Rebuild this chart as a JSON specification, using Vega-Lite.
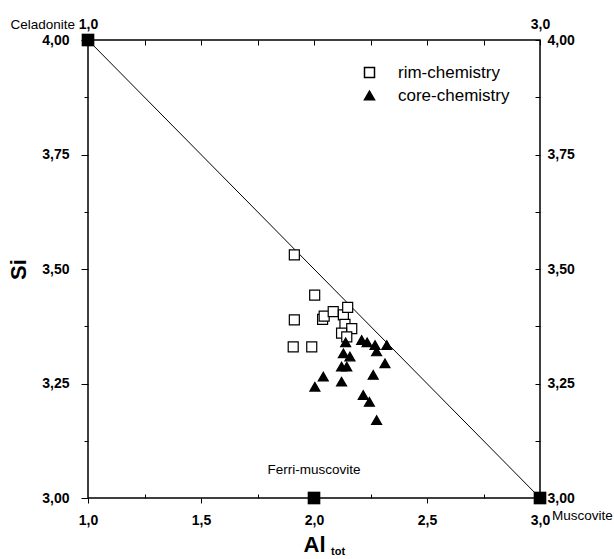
{
  "$schema": "https://vega.github.io/schema/vega-lite/v6.json",
  "width": 452,
  "height": 458,
  "autosize": "none",
  "padding": {"left": 88, "top": 40, "right": 74, "bottom": 61},
  "background": "white",
  "config": {
    "view": {"stroke": "black", "strokeWidth": 1.5},
    "font": "Liberation Sans",
    "axis": {
      "grid": false,
      "domain": false,
      "tickColor": "black",
      "tickWidth": 1,
      "labelColor": "black",
      "titleColor": "black",
      "labelFont": "Liberation Sans",
      "labelFontWeight": "bold",
      "labelFontSize": 14,
      "labelFlush": false,
      "titleFont": "Liberation Sans",
      "titleFontWeight": "bold",
      "titleFontSize": 22
    }
  },
  "datasets": {
    "line": [{"x": 1, "y": 4}, {"x": 3, "y": 3}],
    "ends": [
      {"x": 1, "y": 4, "name": "Celadonite"},
      {"x": 2, "y": 3, "name": "Ferri-muscovite"},
      {"x": 3, "y": 3, "name": "Muscovite"}
    ],
    "pts": [
      {"type": "rim-chemistry", "x": 1.913, "y": 3.531},
      {"type": "rim-chemistry", "x": 2.003, "y": 3.443},
      {"type": "rim-chemistry", "x": 1.913, "y": 3.389},
      {"type": "rim-chemistry", "x": 1.908, "y": 3.330},
      {"type": "rim-chemistry", "x": 1.990, "y": 3.330},
      {"type": "rim-chemistry", "x": 2.038, "y": 3.390},
      {"type": "rim-chemistry", "x": 2.045, "y": 3.397},
      {"type": "rim-chemistry", "x": 2.085, "y": 3.407},
      {"type": "rim-chemistry", "x": 2.130, "y": 3.400},
      {"type": "rim-chemistry", "x": 2.149, "y": 3.416},
      {"type": "rim-chemistry", "x": 2.137, "y": 3.379},
      {"type": "rim-chemistry", "x": 2.167, "y": 3.370},
      {"type": "rim-chemistry", "x": 2.122, "y": 3.360},
      {"type": "rim-chemistry", "x": 2.145, "y": 3.352},
      {"type": "core-chemistry", "x": 2.140, "y": 3.340},
      {"type": "core-chemistry", "x": 2.211, "y": 3.345},
      {"type": "core-chemistry", "x": 2.235, "y": 3.340},
      {"type": "core-chemistry", "x": 2.270, "y": 3.334},
      {"type": "core-chemistry", "x": 2.322, "y": 3.334},
      {"type": "core-chemistry", "x": 2.277, "y": 3.320},
      {"type": "core-chemistry", "x": 2.130, "y": 3.316},
      {"type": "core-chemistry", "x": 2.159, "y": 3.309},
      {"type": "core-chemistry", "x": 2.122, "y": 3.287},
      {"type": "core-chemistry", "x": 2.145, "y": 3.287},
      {"type": "core-chemistry", "x": 2.314, "y": 3.294},
      {"type": "core-chemistry", "x": 2.041, "y": 3.265},
      {"type": "core-chemistry", "x": 2.004, "y": 3.243},
      {"type": "core-chemistry", "x": 2.122, "y": 3.254},
      {"type": "core-chemistry", "x": 2.262, "y": 3.269},
      {"type": "core-chemistry", "x": 2.218, "y": 3.225},
      {"type": "core-chemistry", "x": 2.245, "y": 3.210},
      {"type": "core-chemistry", "x": 2.277, "y": 3.170}
    ]
  },
  "layer": [
    {
      "data": {"name": "line"},
      "mark": {"type": "line", "color": "black", "strokeWidth": 1},
      "encoding": {
        "x": {
          "field": "x", "type": "quantitative",
          "scale": {"domain": [1, 3], "nice": false, "zero": false},
          "axis": {
            "orient": "bottom",
            "title": "Al",
            "values": [1, 1.25, 1.5, 1.75, 2, 2.25, 2.5, 2.75, 3],
            "labelExpr": "(datum.value * 2) % 1 == 0 ? replace(format(datum.value, '.1f'), '.', ',') : ''",
            "tickSize": {"condition": {"test": "(datum.value * 2) % 1 == 0", "value": 5}, "value": -4},
            "labelPadding": 10,
            "titlePadding": 7
          }
        },
        "y": {
          "field": "y", "type": "quantitative",
          "scale": {"domain": [3, 4], "nice": false, "zero": false},
          "axis": {
            "orient": "left",
            "title": "Si",
            "values": [3, 3.125, 3.25, 3.375, 3.5, 3.625, 3.75, 3.875, 4],
            "labelExpr": "(datum.value * 4) % 1 == 0 ? replace(format(datum.value, '.2f'), '.', ',') : ''",
            "tickSize": {"condition": {"test": "(datum.value * 4) % 1 == 0", "value": 7}, "value": 4},
            "labelPadding": 12,
            "titlePadding": 11
          }
        }
      }
    },
    {
      "data": {"name": "pts"},
      "mark": {"type": "point", "filled": false, "stroke": "black", "strokeWidth": 1.2, "opacity": 1},
      "encoding": {
        "x": {
          "field": "x", "type": "quantitative",
          "scale": {"domain": [1, 3], "nice": false, "zero": false},
          "axis": {
            "orient": "top",
            "title": null,
            "values": [1, 1.25, 1.5, 1.75, 2, 2.25, 2.5, 2.75, 3],
            "labelExpr": "datum.value == 1 || datum.value == 3 ? replace(format(datum.value, '.1f'), '.', ',') : ''",
            "tickSize": -5,
            "labelPadding": 14
          }
        },
        "y": {
          "field": "y", "type": "quantitative",
          "scale": {"domain": [3, 4], "nice": false, "zero": false},
          "axis": {
            "orient": "right",
            "title": null,
            "values": [3, 3.125, 3.25, 3.375, 3.5, 3.625, 3.75, 3.875, 4],
            "labelExpr": "(datum.value * 4) % 1 == 0 ? replace(format(datum.value, '.2f'), '.', ',') : ''",
            "tickSize": -5,
            "labelPadding": 12
          }
        },
        "shape": {
          "field": "type", "type": "nominal",
          "scale": {"domain": ["rim-chemistry", "core-chemistry"], "range": ["square", "triangle-up"]},
          "legend": {
            "title": null,
            "orient": "none",
            "legendX": 273,
            "legendY": 24,
            "labelFontSize": 17,
            "labelFont": "Liberation Sans",
            "labelColor": "black",
            "symbolSize": 100,
            "labelOffset": 20,
            "rowPadding": 5,
            "encode": {"symbols": {"update": {"stroke": {"value": "black"}, "strokeWidth": {"value": 1.2}}}}
          }
        },
        "fill": {
          "field": "type", "type": "nominal",
          "scale": {"domain": ["rim-chemistry", "core-chemistry"], "range": ["white", "black"]},
          "legend": {
            "title": null,
            "orient": "none",
            "legendX": 273,
            "legendY": 24,
            "labelFontSize": 17,
            "labelFont": "Liberation Sans",
            "labelColor": "black",
            "symbolSize": 100,
            "labelOffset": 20,
            "rowPadding": 5,
            "encode": {"symbols": {"update": {"stroke": {"value": "black"}, "strokeWidth": {"value": 1.2}}}}
          }
        },
        "size": {"value": 100}
      }
    },
    {
      "data": {"name": "ends"},
      "mark": {"type": "point", "shape": "square", "filled": true, "color": "black", "size": 160, "opacity": 1},
      "encoding": {
        "x": {"field": "x", "type": "quantitative", "axis": null},
        "y": {"field": "y", "type": "quantitative", "axis": null}
      }
    },
    {
      "data": {"name": "ends"},
      "transform": [{"filter": "datum.name == 'Celadonite'"}],
      "mark": {"type": "text", "align": "right", "baseline": "middle", "dx": -13, "dy": -15, "fontSize": 13.5, "font": "Liberation Sans", "color": "black"},
      "encoding": {
        "x": {"field": "x", "type": "quantitative", "axis": null},
        "y": {"field": "y", "type": "quantitative", "axis": null},
        "text": {"field": "name"}
      }
    },
    {
      "data": {"name": "ends"},
      "transform": [{"filter": "datum.name == 'Ferri-muscovite'"}],
      "mark": {"type": "text", "align": "center", "baseline": "middle", "dy": -28, "fontSize": 13.5, "font": "Liberation Sans", "color": "black"},
      "encoding": {
        "x": {"field": "x", "type": "quantitative", "axis": null},
        "y": {"field": "y", "type": "quantitative", "axis": null},
        "text": {"field": "name"}
      }
    },
    {
      "data": {"name": "ends"},
      "transform": [{"filter": "datum.name == 'Muscovite'"}],
      "mark": {"type": "text", "align": "left", "baseline": "middle", "dx": 12, "dy": 18, "fontSize": 13.5, "font": "Liberation Sans", "color": "black"},
      "encoding": {
        "x": {"field": "x", "type": "quantitative", "axis": null},
        "y": {"field": "y", "type": "quantitative", "axis": null},
        "text": {"field": "name"}
      }
    },
    {
      "data": {"name": "ends"},
      "transform": [{"filter": "datum.name == 'Ferri-muscovite'"}],
      "mark": {"type": "text", "align": "left", "baseline": "middle", "dx": 17, "dy": 54, "fontSize": 11, "fontWeight": "bold", "font": "Liberation Sans", "color": "black"},
      "encoding": {
        "x": {"field": "x", "type": "quantitative", "axis": null},
        "y": {"field": "y", "type": "quantitative", "axis": null},
        "text": {"value": "tot"}
      }
    }
  ],
  "resolve": {"axis": {"x": "independent", "y": "independent"}}
}
